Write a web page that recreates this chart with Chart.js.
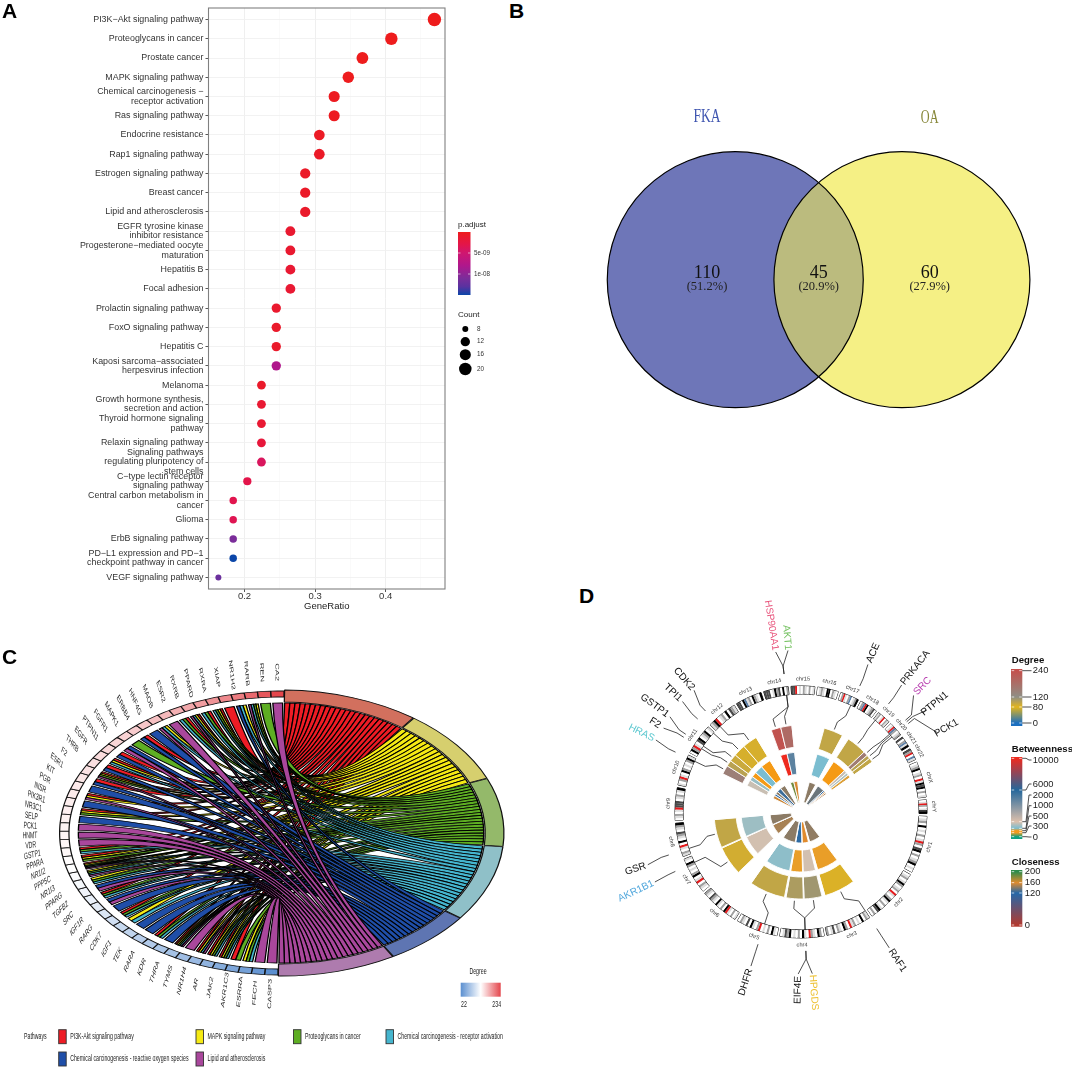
<!DOCTYPE html>
<html>
<head>
<meta charset="utf-8">
<script src="https://cdn.jsdelivr.net/npm/chart.js@4/dist/chart.umd.js"></script>
<style>
  html, body { margin: 0; background: #fff; }
  #page { position: relative; width: 1072px; height: 1069px; overflow: hidden; font-family: "Liberation Sans", Arial, sans-serif; }
  canvas { position: absolute; }
  .tag { position: absolute; font-weight: bold; font-size: 21px; line-height: 21px; color: #000; }
</style>
</head>
<body>
<div id="page">
  <canvas id="cvsC" style="left:0;top:640px"></canvas>
  <canvas id="cvsA" style="left:0;top:0"></canvas>
  <canvas id="cvsB" style="left:590px;top:90px"></canvas>
  <canvas id="cvsD" style="left:600px;top:590px"></canvas>
  <div class="tag" style="left:2px;top:0">A</div>
  <div class="tag" style="left:509px;top:0">B</div>
  <div class="tag" style="left:2px;top:646px">C</div>
  <div class="tag" style="left:579px;top:585px">D</div>
</div>
<script>
// ---- panel A data
const pathways = [
  'PI3K−Akt signaling pathway', 'Proteoglycans in cancer', 'Prostate cancer', 'MAPK signaling pathway',
  ['Chemical carcinogenesis −', 'receptor activation'], 'Ras signaling pathway', 'Endocrine resistance',
  'Rap1 signaling pathway', 'Estrogen signaling pathway', 'Breast cancer', 'Lipid and atherosclerosis',
  ['EGFR tyrosine kinase', 'inhibitor resistance'], ['Progesterone−mediated oocyte', 'maturation'], 'Hepatitis B',
  'Focal adhesion', 'Prolactin signaling pathway', 'FoxO signaling pathway', 'Hepatitis C',
  ['Kaposi sarcoma−associated', 'herpesvirus infection'], 'Melanoma', ['Growth hormone synthesis,', 'secretion and action'],
  ['Thyroid hormone signaling', 'pathway'], 'Relaxin signaling pathway',
  ['Signaling pathways', 'regulating pluripotency of', 'stem cells'], ['C−type lectin receptor', 'signaling pathway'],
  ['Central carbon metabolism in', 'cancer'], 'Glioma', 'ErbB signaling pathway',
  ['PD−L1 expression and PD−1', 'checkpoint pathway in cancer'], 'VEGF signaling pathway'
];
const geneRatio = [0.469,0.408,0.367,0.347,0.327,0.327,0.306,0.306,0.286,0.286,0.286,0.265,0.265,0.265,0.265,0.245,0.245,0.245,0.245,0.224,0.224,0.224,0.224,0.224,0.204,0.184,0.184,0.184,0.184,0.163];
const geneCount = [23,20,18,17,16,16,15,15,14,14,14,13,13,13,13,12,12,12,12,11,11,11,11,11,10,9,9,9,9,8];
const pAdjust = [1e-11,4e-11,6e-11,1.2e-10,3e-10,3e-10,6e-10,7e-10,8e-10,8e-10,1e-9,1.3e-9,1.3e-9,1.5e-9,1.5e-9,1.2e-9,1e-9,1e-9,8e-9,1e-9,1.5e-9,1.5e-9,2e-9,4e-9,3e-9,3.2e-9,3.4e-9,1.1e-8,1.5e-8,1.2e-8];
const ratioTicks = [0.2,0.25,0.3,0.35,0.4,0.45];
const countKeys = [8,12,16,20];

// ---- panel B data
const vennSets = ['FKA','OA'];
const vennCounts = [110,45,60];
const vennShares = ['(51.2%)','(20.9%)','(27.9%)'];

// ---- panel C data
const termNames = ['PI3K-Akt signaling pathway','MAPK signaling pathway','Proteoglycans in cancer','Chemical carcinogenesis - receptor activation','Chemical carcinogenesis - reactive oxygen species','Lipid and atherosclerosis'];
const termCounts = [23,20,18,20,15,20];
const chordGenes = ['CA2','REN','RARB','NR1H2','XIAP','RXRA','PPARD','RXRB','ESR2','MAOB','HNF4G','ERBB4','MAPK1','FGFR1','PTPN11','EGFR','THRB','F2','ESR1','KIT','PGR','INSR','PIK3R1','NR3C1','SELP','PCK1','HNMT','VDR','GSTP1','PPARA','NR1I2','PPP5C','NR1I3','PPARG','TGFB2','SRC','IGF1R','RARG','CDK7','IGF1','TEK','RARA','KDR','THRA','TYMS','NR1H4','AR','JAK2','AKR1C3','ESRRA','FECH','CASP3'];
const chordDegree = [234,225,214,203,196,190,184,178,173,168,164,160,157,154,152,150,148,146,144,142,140,139,138,137,136,135,134,133,132,130,128,126,122,118,114,110,104,98,92,87,82,78,74,70,66,62,56,50,44,38,30,22];
const geneTerms = [[5],[2],[1,2,3,5],[1,3,4],[0],[0,1,2,3],[0,2,3],[0,1,3,5],[0,2,3],[5],[1,3,5],[4],[0,4],[2],[4,5],[0,4],[0,1,3],[0,4],[0,1,2,5],[0,4],[4],[0,1,5],[4],[0,1,2],[4],[5],[5],[5],[0,2,3],[0,1,2],[0,1,2,3,5],[1,2,3,5],[1,2,3],[4,5],[0,2,3],[4,5],[4],[0,2,3],[1,3],[4],[4],[0,2,3],[4],[0,1,2,3,5],[5],[0,1,3,5],[0,1,2,3],[0,1,2,3],[0,2],[1,2,3],[5],[5]];

// ---- panel D data
const chrNames = ['chr1','chr2','chr3','chr4','chr5','chr6','chr7','chr8','chr9','chr10','chr11','chr12','chr13','chr14','chr15','chr16','chr17','chr18','chr19','chr20','chr21','chr22','chrX','chrY'];
const chrLength = [249,243,198,191,181,171,159,146,141,135,135,133,115,107,102,90,81,78,59,63,48,51,155,59];
const chrBands = [
  'wlgwbwlwgwlrgwdbwgwlgbwlw','wlgwlbgwlgwrlwgblwgwlbdwgw','lgwbwlwglrwgbwlgwdlwg','wgbwlgrwlbwgwlwbgdlw','wlbwgwlwrgwlbwdwlgw',
  'lwgwlrbwgwlbwlgdwlg','wlgwrlwbgwlwgbwl','lgwlrwbwlgdwlgb','wlgwlrdddwlgwlb','lwgrlwbgwlwgbl','wbgrlwdbwlgbwl','lgbrwlgwbwdgl',
  'ddwbslgwbglwb','dddwlbgdwbwg','ddrwlwglwgwl','wlglwbbwglw','wgrlwgswlgb','wgsrbwlgdw','lgwlrwgl','wlrsgwlg','dwgslb','dgrwsl',
  'wlgbwlgwrlbdbwgwl','wlrgwlbb'
];
const circGenes = ['ACE','PRKACA','SRC','PTPN1','PCK1','RAF1','HPGDS','EIF4E','DHFR','AKR1B1','GSR','HRAS','F2','GSTP1','TPI1','CDK2','HSP90AA1','AKT1'];
const degreeVals = [96,96,156,100,96,84,112,106,96,88,96,150,100,92,86,86,234,190];
const betweenVals = [1000,500,1800,1500,600,550,1900,550,1200,1900,1350,1800,1300,500,1000,500,10000,4800];
const closeVals = [142,135,118,155,150,143,160,122,142,148,142,156,118,142,125,142,185,158];

// ---- colour scales (value, colour)
const pStops = [[0,'#EE1C1C'],[3e-9,'#E3154A'],[5e-9,'#CF1670'],[8e-9,'#B0178C'],[1.1e-8,'#7B2D9A'],[1.3e-8,'#5A32A0'],[1.5e-8,'#0B46A8']];
const chordStops = [[22,'#5B8FD0'],[128,'#FFFFFF'],[234,'#E4464C']];
const degreeStops = [[0,'#1B6FC0'],[80,'#E3B51C'],[120,'#8F8F85'],[240,'#C4504C']];
const betweenStops = [[0,'#0FA07F'],[300,'#F39A1E'],[500,'#F59A15'],[1000,'#7BBDD0'],[2000,'#DCC0AC'],[6000,'#25679B'],[10000,'#EE2A1E']];
const closeStops = [[0,'#B23A30'],[120,'#2568A8'],[160,'#E08B2E'],[200,'#2E8B4A']];

function hexRgb(h) { return [parseInt(h.slice(1,3),16), parseInt(h.slice(3,5),16), parseInt(h.slice(5,7),16)]; }
function colorAt(stops, v) {
  if (v <= stops[0][0]) return stops[0][1];
  for (let i = 1; i < stops.length; i++) {
    if (v <= stops[i][0]) {
      const t = (v - stops[i-1][0]) / (stops[i][0] - stops[i-1][0]);
      const a = hexRgb(stops[i-1][1]), b = hexRgb(stops[i][1]);
      return `rgb(${a.map((c,k) => Math.round(c + (b[k]-c)*t)).join(',')})`;
    }
  }
  return stops[stops.length-1][1];
}
function txt(ctx, s, x, y, o = {}) {
  ctx.save();
  ctx.font = o.font || '9px "Liberation Sans"';
  ctx.fillStyle = o.color || '#222';
  ctx.textAlign = o.align || 'left';
  ctx.textBaseline = 'middle';
  ctx.translate(x, y);
  if (o.sx) ctx.scale(o.sx, 1);
  if (o.rot) ctx.rotate(o.rot * Math.PI / 180);
  ctx.fillText(s, 0, 0);
  ctx.restore();
}
function size(id, w, h) { const c = document.getElementById(id); c.width = w; c.height = h; return c; }
const base = { responsive: false, animation: false, plugins: { legend: { display: false }, tooltip: { enabled: false } } };
const dotRadius = c => 3 + 3.7 * Math.pow((c - 8) / 15, 0.6);

// ================ A: dot plot
new Chart(size('cvsA', 500, 640), {
  type: 'bubble',
  data: { datasets: [{
    data: geneRatio.map((x, i) => ({ x, y: i, r: dotRadius(geneCount[i]) })),
    backgroundColor: pAdjust.map(p => colorAt(pStops, p)), borderWidth: 0
  }] },
  options: { ...base,
    layout: { autoPadding: false, padding: { top: 8, right: 55 } },
    scales: {
      x: { type: 'linear', min: 0.149, max: 0.484,
        afterBuildTicks: ax => { ax.ticks = ratioTicks.map(v => ({ value: v })); },
        afterFit: ax => { ax.height = 51; },
        grid: { color: c => Math.round(c.tick.value*100) % 10 ? '#f6f6f6' : '#ededed', lineWidth: c => Math.round(c.tick.value*100) % 10 ? 0.6 : 0.9, tickLength: 3, tickColor: c => Math.round(c.tick.value*100) % 10 ? 'transparent' : '#444' },
        border: { display: false },
        ticks: { autoSkip: false, maxRotation: 0, padding: -1, color: '#333', font: { family: 'Liberation Sans', size: 9.5 }, callback: v => Math.round(v*100) % 10 ? '' : v.toFixed(1) }
      },
      y: { type: 'linear', reverse: true, min: -0.6, max: 29.6,
        afterBuildTicks: ax => { ax.ticks = pathways.map((_, i) => ({ value: i })); },
        afterFit: ax => { ax.width = 208.5; },
        grid: { color: '#f1f1f1', lineWidth: 0.9, tickLength: 3, tickColor: '#444' },
        border: { display: false },
        ticks: { autoSkip: false, padding: 2, color: '#333', font: { family: 'Liberation Sans', size: 8.9, lineHeight: 1.056 }, callback: v => pathways[v] }
      }
    }
  },
  plugins: [{ id: 'frameAndKeys', afterDraw(chart) {
    const c = chart.ctx, a = chart.chartArea;
    c.strokeStyle = '#808080'; c.lineWidth = 1.1;
    c.strokeRect(a.left, a.top, a.right - a.left, a.bottom - a.top);
    txt(c, 'GeneRatio', (a.left + a.right) / 2, 606, { font: '9.5px "Liberation Sans"', align: 'center' });
    // p.adjust colour bar
    txt(c, 'p.adjust', 458, 225, { font: '8px "Liberation Sans"' });
    const g = c.createLinearGradient(0, 232, 0, 295);
    pStops.forEach(s => g.addColorStop(s[0] / 1.5e-8, s[1]));
    c.fillStyle = g; c.fillRect(458, 232, 12.5, 63);
    [[253,'5e-09'],[274,'1e-08']].forEach(([y, s]) => {
      c.fillStyle = 'rgba(255,255,255,.7)'; c.fillRect(458, y-0.4, 2.5, 0.8); c.fillRect(468, y-0.4, 2.5, 0.8);
      txt(c, s, 474, y, { font: '6.3px "Liberation Sans"', color: '#333' });
    });
    // Count key
    txt(c, 'Count', 458, 315, { font: '8px "Liberation Sans"' });
    [329, 341.7, 354.7, 369].forEach((y, i) => {
      c.beginPath(); c.arc(465.3, y, dotRadius(countKeys[i]), 0, Math.PI*2); c.fillStyle = '#000'; c.fill();
      txt(c, String(countKeys[i]), 477, y, { font: '6.3px "Liberation Sans"', color: '#333' });
    });
  } }]
});

// ================ B: venn
new Chart(size('cvsB', 460, 330), {
  type: 'bubble',
  data: { datasets: [{
    data: [{ x: 0, y: 0, r: 128 }, { x: 1.302, y: 0, r: 128 }],
    backgroundColor: ['#6E76B8', '#F5F085'], borderWidth: 0, clip: false
  }] },
  options: { ...base,
    layout: { autoPadding: false },
    scales: {
      x: { type: 'linear', display: false, min: -1.135, max: 2.459 },
      y: { type: 'linear', display: false, min: -1.096, max: 1.482 }
    }
  },
  plugins: [{ id: 'vennOverlap', afterDatasetsDraw(chart) {
    const c = chart.ctx, pts = chart.getDatasetMeta(0).data, r = 128;
    c.save();
    c.beginPath(); c.arc(pts[0].x, pts[0].y, r, 0, Math.PI*2); c.clip();
    c.beginPath(); c.arc(pts[1].x, pts[1].y, r, 0, Math.PI*2); c.fillStyle = '#BBBB7E'; c.fill();
    c.restore();
    c.strokeStyle = '#000'; c.lineWidth = 1.2;
    pts.forEach(p => { c.beginPath(); c.arc(p.x, p.y, r, 0, Math.PI*2); c.stroke(); });
    const serif = s => `${s}px "Liberation Serif"`;
    txt(c, vennSets[0], 117, 27, { font: serif(18), color: '#3F55B0', align: 'center', sx: 0.75 });
    txt(c, vennSets[1], 339.7, 28, { font: serif(18), color: '#87873A', align: 'center', sx: 0.68 });
    [117, 228.7, 339.7].forEach((x, i) => {
      txt(c, String(vennCounts[i]), x, 183, { font: serif(18), color: '#111', align: 'center' });
      txt(c, vennShares[i], x, 197, { font: serif(12.5), color: '#222', align: 'center' });
    });
  } }]
});

// ================ C: chord
const cC = { x: 281, y: 193, sx: 1.559, rib: 130 };
const geneWeight = termCounts.reduce((a, b) => a + b, 0) / chordGenes.length;
const chordRev = chordGenes.map((_, i) => chordGenes.length - 1 - i);
const termFill = ['#D2705E','#D6CF6E','#94B96A','#8FC0C8','#5E75B2','#AE7BAE'];
const ribbonFill = ['#EE1C25','#F5EA14','#5EAE23','#45B5CE','#1F4EA8','#A9479C'];

new Chart(size('cvsC', 562, 429), {
  type: 'doughnut',
  data: {
    labels: termNames.concat(chordRev.map(i => chordGenes[i])),
    datasets: [{
      data: termCounts.concat(chordRev.map(() => geneWeight)),
      backgroundColor: termFill.concat(chordRev.map(i => colorAt(chordStops, chordDegree[i]))),
      borderColor: '#111', borderWidth: 0.8, spacing: 2, rotation: 0.8, clip: false
    }]
  },
  options: { ...base },
  plugins: [{ id: 'chord',
    afterDatasetsUpdate(chart) {
      chart.getDatasetMeta(0).data.forEach((arc, i) => {
        arc.x = cC.x; arc.y = cC.y;
        arc.innerRadius = i < 6 ? 130 : 135; arc.outerRadius = i < 6 ? 142 : 141;
      });
    },
    beforeDatasetsDraw(chart) {
      const c = chart.ctx;
      c.save(); c.translate(cC.x, cC.y); c.scale(cC.sx, 1); c.translate(-cC.x, -cC.y);
    },
    afterDatasetsDraw(chart) {
      const c = chart.ctx, arcs = chart.getDatasetMeta(0).data;
      // ribbons: slots on the term sector matched to slices of the gene box
      const R = cC.rib, pad = 0.004;
      termCounts.forEach((_, t) => {
        const members = chordGenes.map((g, i) => i).filter(i => geneTerms[i].includes(t));
        const s = arcs[t].startAngle + pad, e = arcs[t].endAngle - pad, w = (e - s) / members.length;
        members.forEach((i, k) => {
          const arc = arcs[6 + chordGenes.length - 1 - i];
          const list = geneTerms[i].slice().sort((a, b) => b - a);
          const m = (arc.endAngle - arc.startAngle) * 0.1;
          const gs = arc.startAngle + m, gw = (arc.endAngle - arc.startAngle - 2*m) / list.length;
          const pos = list.indexOf(t);
          const a1 = s + k*w, a2 = s + (k+1)*w, b1 = gs + pos*gw, b2 = gs + (pos+1)*gw;
          c.beginPath();
          c.arc(cC.x, cC.y, R, a1, a2);
          c.quadraticCurveTo(cC.x, cC.y, cC.x + R*Math.cos(b1), cC.y + R*Math.sin(b1));
          c.arc(cC.x, cC.y, R, b1, b2);
          c.quadraticCurveTo(cC.x, cC.y, cC.x + R*Math.cos(a1), cC.y + R*Math.sin(a1));
          c.closePath();
          c.fillStyle = ribbonFill[t]; c.fill();
          c.strokeStyle = '#000'; c.lineWidth = 0.85; c.stroke();
        });
      });
      c.restore();
      // gene names, squeezed like the source figure
      arcs.forEach((arc, i) => {
        if (i < 6) return;
        const mid = (arc.startAngle + arc.endAngle) / 2;
        const deg = (mid + Math.PI/2) * 180 / Math.PI;
        txt(c, chart.data.labels[i], cC.x + cC.sx*161*Math.cos(mid), cC.y + 161*Math.sin(mid),
          { font: '9.2px "Liberation Sans"', color: '#222', align: 'center', sx: 0.56, rot: deg - 270 });
      });
      // legends, in page coordinates
      c.save(); c.translate(0, -640);
      const sq = { font: '9px "Liberation Sans"', color: '#222', sx: 0.58 };
      txt(c, 'Pathways', 24, 1036.7, sq);
      [[58.7,1036.7],[196,1036.7],[293.5,1036.7],[386,1036.7],[58.7,1059],[196,1059]].forEach(([x, y], i) => {
        c.fillStyle = ribbonFill[i]; c.fillRect(x, y-7, 7.5, 14);
        c.strokeStyle = '#333'; c.lineWidth = 0.9; c.strokeRect(x, y-7, 7.5, 14);
        txt(c, termNames[i], x + 11.5, y, sq);
      });
      txt(c, 'Degree', 478, 972, { ...sq, align: 'center' });
      const g = c.createLinearGradient(460.7, 0, 500.7, 0);
      chordStops.forEach(s => g.addColorStop((s[0]-22)/212, s[1]));
      c.fillStyle = g; c.fillRect(460.7, 982.7, 40, 14);
      txt(c, '22', 464, 1005, { ...sq, align: 'center' });
      txt(c, '234', 496.7, 1005, { ...sq, align: 'center' });
      c.restore();
    }
  }]
});

// ================ D: circos
const cD = { x: 801, y: 812 };            // page coordinates of the circle centre
const tileEdges = [[15.5,28.5],[33,46.5],[46.5,49.5],[49.5,52],[52,55],[143,164],[166,178],[178.5,190],[191,215],[226,245.5],[246,265],[296,302],[302,306],[306,311],[311,319],[319,329],[340,346.5],[346.5,354]];
const locusAngle = [25,39,48.7,49.5,50.5,147,178,178,198,244.7,252,295.5,302.5,304,312,316.6,353,353];
const labelAngle = [24.4,38.4,44,51,60,147,176,181,198,244.4,251,296.4,301.4,306,313,318.7,351,355.4];
const labelRadius = [174.6,184,175,172,168,177,181,178,179,183,175,178,171,181,175,177,189,175];
const labelColor = { SRC: '#B83FB0', HPGDS: '#EDC030', AKR1B1: '#4FA6DC', HRAS: '#5CC8D0', HSP90AA1: '#E8527A', AKT1: '#6FBF5A' };
const bandColor = { w: '#ffffff', l: '#dedede', g: '#a0a0a0', d: '#4a4a4a', b: '#000000', r: '#e41a1c', s: '#5b7fa8' };
const chrGap = 12;

const bandW = [], bandC = [];
chrBands.forEach((s, i) => {
  s.split('').forEach(ch => { bandW.push(chrLength[i] / s.length); bandC.push(bandColor[ch]); });
  bandW.push(chrGap); bandC.push('transparent');
});
const outlineW = [], outlineB = [];
chrLength.forEach(l => { outlineW.push(l, chrGap); outlineB.push('#111', 'transparent'); });

function trackData(vals, stops) {
  const w = [], col = [];
  let at = 0;
  tileEdges.forEach(([s, e], i) => {
    w.push(s - at, e - s); col.push('transparent', colorAt(stops, vals[i])); at = e;
  });
  w.push(360 - at); col.push('transparent');
  return { data: w, backgroundColor: col, borderColor: '#fff', borderWidth: 0.9, clip: false };
}

const polar = (r, a) => [cD.x + r*Math.sin(a*Math.PI/180), cD.y - r*Math.cos(a*Math.PI/180)];
const ringRadii = [[118,126],[118,126],[65,87],[38,60],[10,31]];

new Chart(size('cvsD', 472, 460), {
  type: 'doughnut',
  data: { datasets: [
    { data: bandW, backgroundColor: bandC, borderWidth: 0, rotation: 92, clip: false },
    { data: outlineW, backgroundColor: 'transparent', borderColor: outlineB, borderWidth: 1, rotation: 92, clip: false },
    trackData(degreeVals, degreeStops),
    trackData(betweenVals, betweenStops),
    trackData(closeVals, closeStops)
  ] },
  options: { ...base },
  plugins: [{ id: 'circos',
    afterDatasetsUpdate(chart) {
      ringRadii.forEach((rr, d) => chart.getDatasetMeta(d).data.forEach(arc => {
        arc.x = cD.x - 600; arc.y = cD.y - 590; arc.innerRadius = rr[0]; arc.outerRadius = rr[1];
      }));
    },
    afterDatasetsDraw(chart) {
      const c = chart.ctx;
      c.save(); c.translate(-600, -590);
      // chromosome names
      chart.getDatasetMeta(1).data.forEach((arc, i) => {
        if (i % 2) return;
        const a = ((arc.startAngle + arc.endAngle)/2 * 180/Math.PI + 90 + 360) % 360;
        const [x, y] = polar(133, a);
        const rot = a < 90 ? a : a <= 270 ? a - 180 : a - 360;
        txt(c, chrNames[i/2], x, y, { font: '5.6px "Liberation Sans"', color: '#333', align: 'center', rot });
      });
      // leader lines and gene labels
      c.strokeStyle = '#222'; c.lineWidth = 0.8; c.lineJoin = 'round';
      const poly = pts => { c.beginPath(); pts.forEach((p, k) => k ? c.lineTo(p[0], p[1]) : c.moveTo(p[0], p[1])); c.stroke(); };
      circGenes.forEach((g, i) => {
        const a0 = locusAngle[i], mid = (tileEdges[i][0] + tileEdges[i][1]) / 2, la = labelAngle[i], lr = labelRadius[i];
        poly([polar(118, a0), polar(106, a0), polar(97, mid), polar(89, mid)]);
        poly([polar(139, a0), polar(147, a0), polar(Math.min(162, lr - 10), la)]);
        const [x, y] = polar(lr, la);
        txt(c, g, x, y, { font: '10px "Liberation Sans"', color: labelColor[g] || '#111', align: 'center', rot: la < 180 ? la - 90 : la - 270 });
      });
      // colour keys
      const bold = 'bold 9.6px "Liberation Sans"', tick = '9.4px "Liberation Sans"';
      const key = (title, ty, top, bot, stops, ys, lys, lx) => {
        txt(c, title, 1011.7, ty, { font: bold, color: '#111' });
        const g = c.createLinearGradient(0, top, 0, bot);
        stops.forEach((s, i) => {
          const f = (ys[i] - top) / (bot - top);
          g.addColorStop(Math.min(1, Math.max(0, f)), s[1]);
        });
        c.fillStyle = g; c.fillRect(1011, top, 11.3, bot - top);
        stops.forEach((s, i) => {
          c.fillStyle = 'rgba(255,255,255,.85)'; c.fillRect(1011.6, ys[i]-0.4, 2.6, 0.8); c.fillRect(1019.2, ys[i]-0.4, 2.6, 0.8);
          if (lx > 1030) poly([[1022.3, ys[i]], [1026, ys[i]], [1029, lys[i]], [1031.5, lys[i]]]);
          txt(c, String(s[0]), lx, lys[i], { font: tick, color: '#222' });
        });
      };
      key('Degree', 660.7, 669, 726, degreeStops, [723,707,697,670.7], [723,707,697,670.7], 1032.7);
      key('Betweenness', 749, 757, 839, betweenStops, [836.7,832.7,830.7,828.3,821.7,790,758.3], [837,826,816,805.7,795,784,760], 1032.7);
      key('Closeness', 862, 870, 926.7, closeStops, [925,893,882.7,871.7], [925,893,882.7,871.7], 1024.7);
      c.restore();
    }
  }]
});
</script>
</body>
</html>
